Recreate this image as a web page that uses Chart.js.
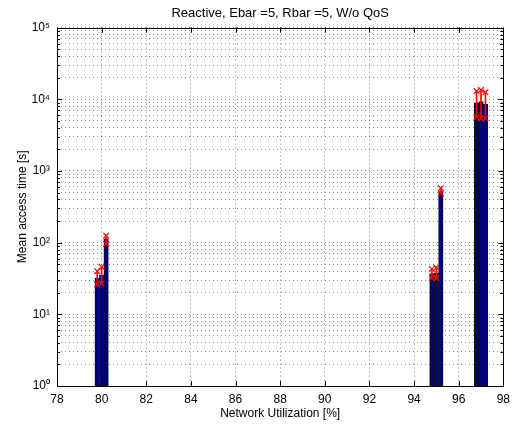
<!DOCTYPE html>
<html>
<head>
<meta charset="utf-8">
<script src="https://cdn.jsdelivr.net/npm/chart.js@4/dist/chart.umd.min.js"></script>
<style>
  html, body { margin: 0; padding: 0; background: #fff; }
  #wrap { width: 516px; height: 426px; position: relative; }
</style>
</head>
<body>
<div id="wrap"><canvas id="c" width="516" height="426"></canvas></div>
<script>
// ---- data ----
const chartTitle = 'Reactive, Ebar =5, Rbar =5, W/o QoS';
const xLabel = 'Network Utilization [%]';
const yLabel = 'Mean access time [s]';
const utilization = [79.8, 80.0, 80.2, 94.8, 95.0, 95.2, 96.8, 97.0, 97.2];
const meanTime    = [32, 35, 113, 37, 38, 515, 8900, 9300, 8500];
const upperTime   = [40, 46, 125, 43, 45, 575, 13000, 13500, 12500];
const lowerTime   = [26, 27, 96, 32, 32, 490, 5600, 5400, 5400];
const xTicks = [78, 80, 82, 84, 86, 88, 90, 92, 94, 96, 98];
const yDecades = [1, 10, 100, 1000, 10000, 100000];

const SUP = {'0':'⁰','1':'¹','2':'²','3':'³','4':'⁴','5':'⁵','6':'⁶','7':'⁷','8':'⁸','9':'⁹','-':'⁻'};
function decadeLabel(v) {
  const e = Math.round(Math.log10(v));
  return '10' + String(e).split('').map(c => SUP[c]).join('');
}
function isDecade(v) {
  const e = Math.log10(v);
  return Math.abs(e - Math.round(e)) < 1e-9;
}
// all 1..9 x 10^k ticks for the log axis (major + minor grid)
const yAllTicks = [];
for (let i = 0; i < yDecades.length; i++) {
  const d = yDecades[i];
  if (i === yDecades.length - 1) { yAllTicks.push(d); break; }
  for (let m = 1; m <= 9; m++) yAllTicks.push(m * d);
}

const FONT = "'Liberation Sans', Arial, Helvetica, sans-serif";

const frame = {
  id: 'frame',
  afterDatasetsDraw(chart) {
    const {ctx, chartArea: a, scales: {x, y}} = chart;
    ctx.save();
    ctx.strokeStyle = '#000';
    ctx.lineWidth = 1;
    ctx.setLineDash([]);
    const line = (x1, y1, x2, y2) => { ctx.beginPath(); ctx.moveTo(x1, y1); ctx.lineTo(x2, y2); ctx.stroke(); };
    x.ticks.forEach(t => {
      const px = Math.round(x.getPixelForValue(t.value)) + 0.5;
      line(px, a.bottom, px, a.bottom - 5);
      line(px, a.top, px, a.top + 5);
    });
    y.ticks.forEach(t => {
      const py = Math.round(y.getPixelForValue(t.value)) + 0.5;
      const len = isDecade(t.value) ? 5 : 3;
      line(a.left, py, a.left + len, py);
      line(a.right, py, a.right - len, py);
    });
    ctx.strokeRect(Math.round(a.left) + 0.5, Math.round(a.top) + 0.5,
                   Math.round(a.right - a.left), Math.round(a.bottom - a.top));
    ctx.restore();
  }
};

new Chart(document.getElementById('c'), {
  data: {
    datasets: [
      {
        type: 'bar',
        label: 'mean',
        data: utilization.map((u, i) => ({x: u, y: [1, meanTime[i]]})),
        backgroundColor: '#00007c',
        borderColor: '#111',
        borderWidth: 1,
        borderSkipped: false,
        barThickness: 4.5,
        grouped: false,
        order: 3
      },
      {
        type: 'bar',
        label: 'range',
        data: utilization.map((u, i) => ({x: u, y: [lowerTime[i], upperTime[i]]})),
        backgroundColor: '#ff0000',
        borderWidth: 0,
        barThickness: 1,
        grouped: false,
        order: 2
      },
      {
        type: 'line',
        label: 'limits',
        data: utilization.map((u, i) => ({x: u, y: upperTime[i]}))
              .concat(utilization.map((u, i) => ({x: u, y: lowerTime[i]}))),
        showLine: false,
        pointStyle: 'crossRot',
        pointRadius: 4,
        pointBorderColor: '#ff0000',
        pointBackgroundColor: '#ff0000',
        pointBorderWidth: 1.2,
        order: 1
      }
    ]
  },
  options: {
    responsive: false,
    animation: false,
    layout: { padding: { left: 0, right: 12, top: 0, bottom: 0 } },
    plugins: {
      legend: { display: false },
      tooltip: { enabled: false },
      title: {
        display: true,
        fullSize: false,
        text: chartTitle,
        color: '#000',
        font: { family: FONT, size: 13, weight: 'normal' },
        padding: { top: 6, bottom: 6 }
      }
    },
    scales: {
      x: {
        type: 'linear',
        min: 78, max: 98,
        offset: false,
        afterBuildTicks: s => { s.ticks = xTicks.map(v => ({value: v})); },
        afterFit: s => { s.height = 40; },
        ticks: {
          color: '#000',
          font: { family: FONT, size: 12 },
          padding: 6,
          maxRotation: 0,
          autoSkip: false,
          callback: v => String(v)
        },
        grid: {
          offset: false,
          drawTicks: false,
          color: 'rgba(0,0,0,0.45)',
          lineWidth: 1
        },
        border: { display: false, dash: [1, 3] },
        title: {
          display: true,
          text: xLabel,
          color: '#000',
          font: { family: FONT, size: 12 },
          padding: { top: 0, bottom: 5 }
        }
      },
      y: {
        type: 'logarithmic',
        min: 1, max: 100000,
        afterBuildTicks: s => { s.ticks = yAllTicks.map(v => ({value: v, major: isDecade(v)})); },
        afterFit: s => { s.width = 57; },
        ticks: {
          color: '#000',
          font: { family: FONT, size: 12 },
          padding: 7,
          autoSkip: false,
          callback: v => isDecade(v) ? decadeLabel(v) : ''
        },
        grid: {
          drawTicks: false,
          color: 'rgba(0,0,0,0.45)',
          lineWidth: 1
        },
        border: { display: false, dash: [1, 3] },
        title: {
          display: true,
          text: yLabel,
          color: '#000',
          font: { family: FONT, size: 12 },
          padding: { top: 15, bottom: 0 }
        }
      }
    }
  },
  plugins: [frame]
});
</script>
</body>
</html>
